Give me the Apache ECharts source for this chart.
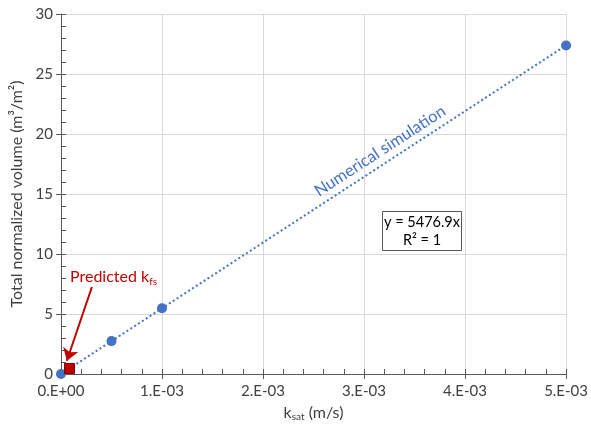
<!DOCTYPE html>
<html>
<head>
<meta charset="utf-8">
<script src="https://cdn.jsdelivr.net/npm/echarts@6/dist/echarts.min.js"></script>
<style>
  html, body { margin: 0; padding: 0; background: #fff; }
  #chart { width: 591px; height: 429px; }
</style>
</head>
<body>
<div id="chart"></div>
<script>
// Simulated total normalized volume vs. saturated hydraulic conductivity
const ksatValues = [0, 0.0005, 0.001, 0.005];
const volumeValues = [0, 2.74, 5.48, 27.38];
const trendSlope = 5476.9;               // y = 5476.9x, R² = 1
const trendRange = [0, 0.005];
const predictedKfs = [0.000084];
const predictedVolume = [0.46];
const xTickLabels = ['0.E+00', '1.E-03', '2.E-03', '3.E-03', '4.E-03', '5.E-03'];
const yTicks = [0, 5, 10, 15, 20, 25, 30];

const FONT = 'Lato, "Liberation Sans", sans-serif';
const BLUE = '#4472C4';
const RED = '#C00000';
const AXIS = '#595959';
const LABEL = '#404040';

const chart = echarts.init(document.getElementById('chart'));

const trendData = trendRange.map(x => [x, trendSlope * x]);

chart.setOption({
  animation: false,
  textStyle: { fontFamily: FONT },
  grid: { left: 61, right: 23, top: 14, bottom: 55 },
  xAxis: [
    {
      type: 'value', min: 0, max: 0.005, interval: 0.001,
      name: '{m|k}{s|sat}{m| (m/s)}',
      nameLocation: 'middle', nameGap: 29,
      nameTextStyle: {
        rich: {
          m: { fontSize: 16, color: '#404040', fontFamily: FONT },
          s: { fontSize: 10, color: '#404040', fontFamily: FONT, padding: [9, 0, 0, 0] }
        }
      },
      axisLine: { lineStyle: { color: AXIS, width: 1 } },
      axisTick: { show: true, inside: false, length: 5, lineStyle: { color: AXIS } },
      axisLabel: {
        margin: 10, color: LABEL, fontSize: 15, fontFamily: FONT,
        formatter: v => xTickLabels[Math.round(v / 0.001)]
      },
      splitLine: { show: true, lineStyle: { color: '#d9d9d9', width: 1 } }
    },
    {
      type: 'value', min: 0, max: 0.005, interval: 0.0002, position: 'bottom',
      axisLine: { show: false },
      axisTick: { show: true, inside: true, length: 5, lineStyle: { color: AXIS } },
      axisLabel: { show: false },
      splitLine: { show: false }
    }
  ],
  yAxis: [
    {
      type: 'value', min: 0, max: 30, interval: 5,
      name: 'Total normalized volume (m³/m²)',
      nameLocation: 'middle', nameGap: 32, nameRotate: 90,
      nameTextStyle: { fontSize: 16, color: '#404040', fontFamily: FONT },
      axisLine: { show: true, lineStyle: { color: AXIS, width: 1 } },
      axisTick: { show: true, inside: false, length: 5, lineStyle: { color: AXIS } },
      axisLabel: {
        margin: 8, color: LABEL, fontSize: 15, fontFamily: FONT,
        formatter: v => String(yTicks[Math.round(v / 5)])
      },
      splitLine: { show: true, lineStyle: { color: '#d9d9d9', width: 1 } }
    },
    {
      type: 'value', min: 0, max: 30, interval: 1, position: 'left',
      axisLine: { show: false },
      axisTick: { show: true, inside: true, length: 5, lineStyle: { color: AXIS } },
      axisLabel: { show: false },
      splitLine: { show: false }
    }
  ],
  series: [
    {
      name: 'Trendline', type: 'line', xAxisIndex: 0, yAxisIndex: 0,
      data: trendData, showSymbol: false, symbol: 'none',
      lineStyle: { color: BLUE, width: 2, type: [2, 2.6], cap: 'butt' },
      z: 2
    },
    {
      name: 'Numerical simulation', type: 'scatter', xAxisIndex: 0, yAxisIndex: 0,
      data: ksatValues.map((x, i) => [x, volumeValues[i]]),
      symbol: 'circle', symbolSize: 10,
      itemStyle: { color: BLUE, opacity: 1 },
      z: 3
    },
    {
      name: 'Predicted kfs', type: 'scatter', xAxisIndex: 0, yAxisIndex: 0,
      data: predictedKfs.map((x, i) => [x, predictedVolume[i]]),
      symbol: 'rect', symbolSize: 10,
      itemStyle: { color: RED, borderColor: '#7f0000', borderWidth: 1, opacity: 1 },
      z: 4,
      markLine: {
        silent: true, animation: false,
        symbol: ['none', 'arrow'], symbolSize: 12,
        label: { show: false },
        lineStyle: { color: RED, width: 2, type: 'solid', opacity: 1 },
        emphasis: { disabled: true },
        data: [[{ coord: [0.000306, 7.25] }, { coord: [0.000058, 1.1] }]]
      }
    }
  ],
  graphic: [
    {
      type: 'text', x: 380, y: 151, rotation: 33 * Math.PI / 180,
      style: {
        text: 'Numerical simulation', fill: BLUE, font: '16.5px ' + FONT,
        align: 'center', verticalAlign: 'middle'
      }, z: 10
    },
    {
      type: 'rect', shape: { x: 382.5, y: 211.5, width: 79, height: 39 },
      style: { fill: '#fff', stroke: '#595959', lineWidth: 1 }, z: 10
    },
    {
      type: 'text', x: 422, y: 222,
      style: {
        text: 'y = 5476.9x', fill: '#000', font: '14.5px ' + FONT,
        align: 'center', verticalAlign: 'middle'
      }, z: 11
    },
    {
      type: 'text', x: 422, y: 240,
      style: {
        text: 'R² = 1', fill: '#000', font: '14.5px ' + FONT,
        align: 'center', verticalAlign: 'middle'
      }, z: 11
    },
    {
      type: 'text', x: 70, y: 277,
      style: {
        text: '{m|Predicted k}{s|fs}',
        rich: {
          m: { fontSize: 16, fill: RED, fontFamily: FONT },
          s: { fontSize: 10, fill: RED, fontFamily: FONT, padding: [9, 0, 0, 0] }
        },
        align: 'left', verticalAlign: 'middle'
      }, z: 11
    }
  ]
});
</script>
</body>
</html>
